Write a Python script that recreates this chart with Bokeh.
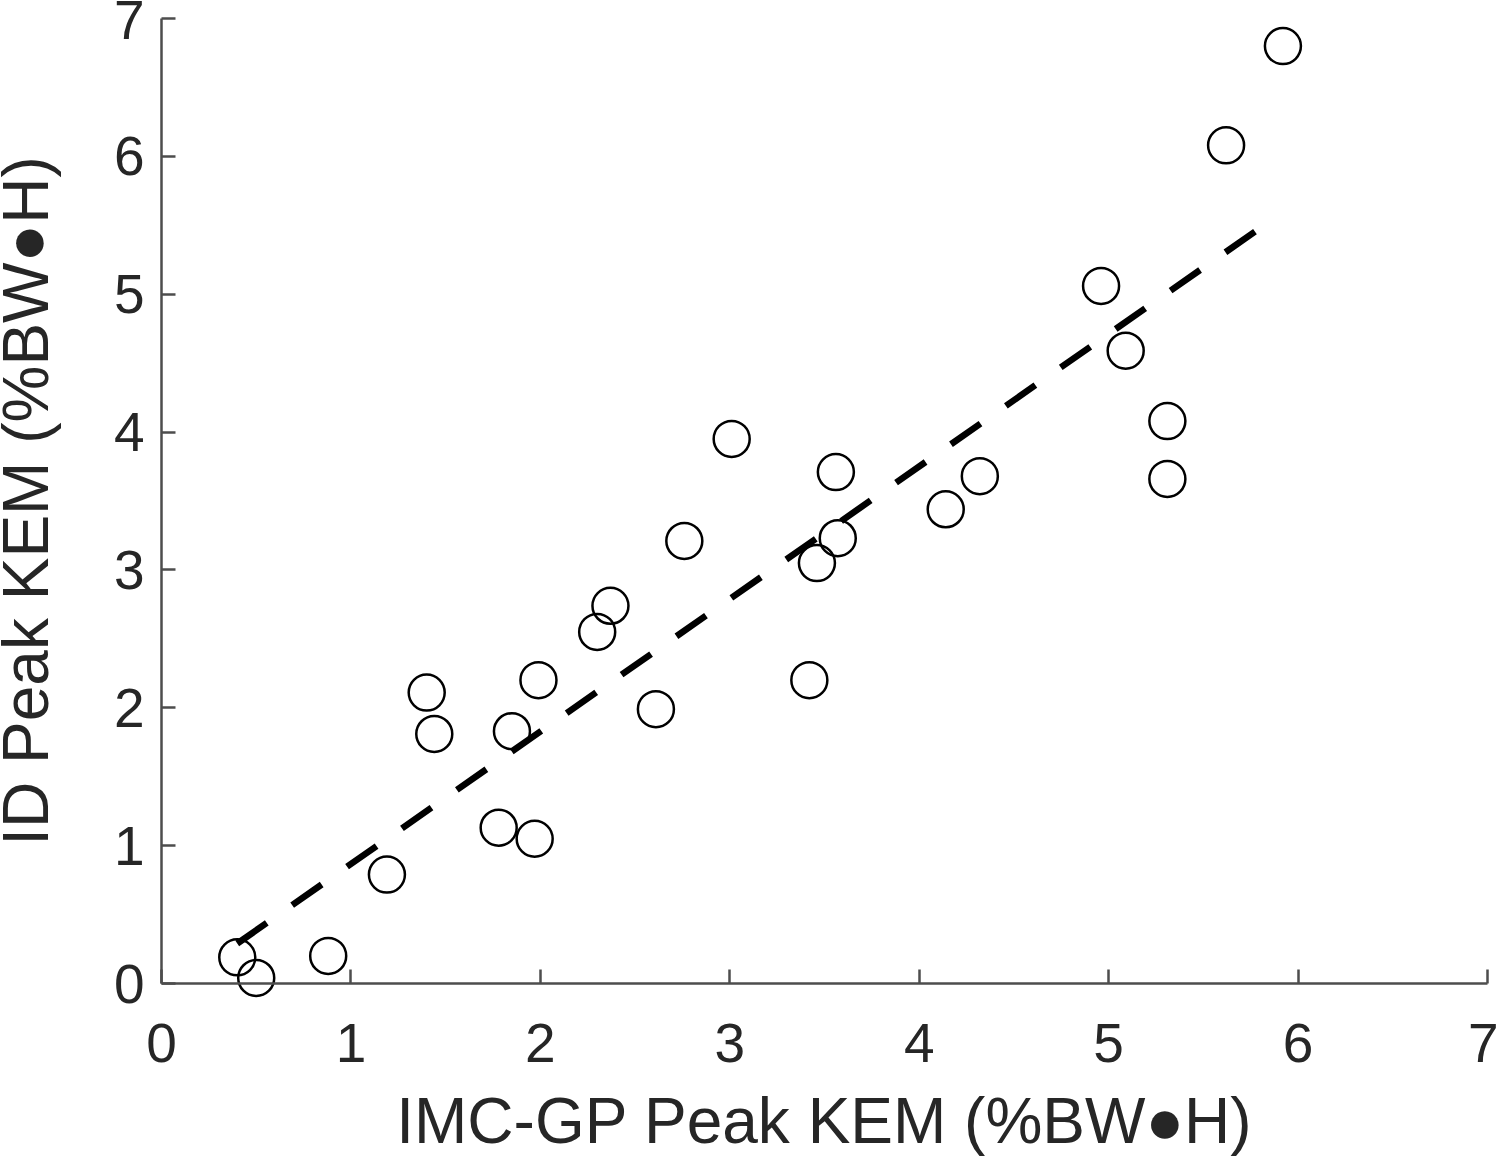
from bokeh.plotting import figure
from bokeh.models import Range1d, FixedTicker
from bokeh.embed import file_html
from bokeh.resources import INLINE

imc_gp = [0.40, 0.50, 0.88, 1.19, 1.40, 1.44, 1.78, 1.85, 1.97, 1.99,
          2.30, 2.37, 2.61, 2.76, 3.01, 3.42, 3.46, 3.56, 3.57, 4.14,
          4.32, 4.96, 5.09, 5.31, 5.31, 5.62, 5.92]
id_kem = [0.19, 0.04, 0.20, 0.79, 2.11, 1.81, 1.13, 1.83, 1.05, 2.20,
          2.55, 2.74, 1.99, 3.21, 3.95, 2.20, 3.05, 3.71, 3.23, 3.44,
          3.68, 5.06, 4.59, 4.08, 3.66, 6.08, 6.80]
fit_x = [0.40, 5.82]
fit_y = [0.29, 5.50]
ticks = [0, 1, 2, 3, 4, 5, 6, 7]

FONT = "Liberation Sans"
TXT = "#262626"
AX = "#4d4d4d"

# canvas geometry: the whole canvas is the frame, axes are fixed at 0,
# so that no text or circle is clipped
W, H = 1498, 1156
AX_L, AX_R, AX_T, AX_B = 161, 1487, 18, 983   # pixel spots of 0..7 on each axis
sx = (AX_R - AX_L) / 7.0
sy = (AX_B - AX_T) / 7.0
x_lo = -AX_L / sx
x_hi = x_lo + W / sx
y_hi = 7 + AX_T / sy
y_lo = y_hi - H / sy

p = figure(frame_width=W, frame_height=H, output_backend="svg",
           toolbar_location=None, x_range=Range1d(x_lo, x_hi),
           y_range=Range1d(y_lo, y_hi), min_border=0)
p.outline_line_color = None
p.grid.visible = False
p.background_fill_color = "white"
p.border_fill_color = "white"

p.line(fit_x, fit_y, line_color="black", line_width=6.5, line_dash="36 31",
       line_cap="butt")
p.scatter(imc_gp, id_kem, marker="circle", size=36, fill_color=None,
          line_color="black", line_width=2.5)

for ax in (p.xaxis[0], p.yaxis[0]):
    ax.ticker = FixedTicker(ticks=ticks)
    ax.fixed_location = 0
    ax.bounds = (0, 7)
    ax.minor_tick_line_color = None
    ax.major_tick_in = 14
    ax.major_tick_out = 0
    ax.axis_line_color = AX
    ax.axis_line_width = 2.5
    ax.major_tick_line_color = AX
    ax.major_tick_line_width = 2.5
    ax.major_label_text_font = FONT
    ax.major_label_text_font_size = "55px"
    ax.major_label_text_color = TXT
    ax.axis_label_text_font = FONT
    ax.axis_label_text_font_size = "64px"
    ax.axis_label_text_color = TXT
    ax.axis_label_text_font_style = "normal"

p.xaxis.axis_label = "IMC-GP Peak KEM (%BW\u25cfH)"
p.yaxis.axis_label = "ID Peak KEM (%BW\u25cfH)"
p.xaxis.major_label_standoff = 40
p.xaxis.axis_label_standoff = 20
p.yaxis.major_label_standoff = 17
p.yaxis.axis_label_standoff = 49

open("out.html", "w").write(file_html(p, INLINE))
